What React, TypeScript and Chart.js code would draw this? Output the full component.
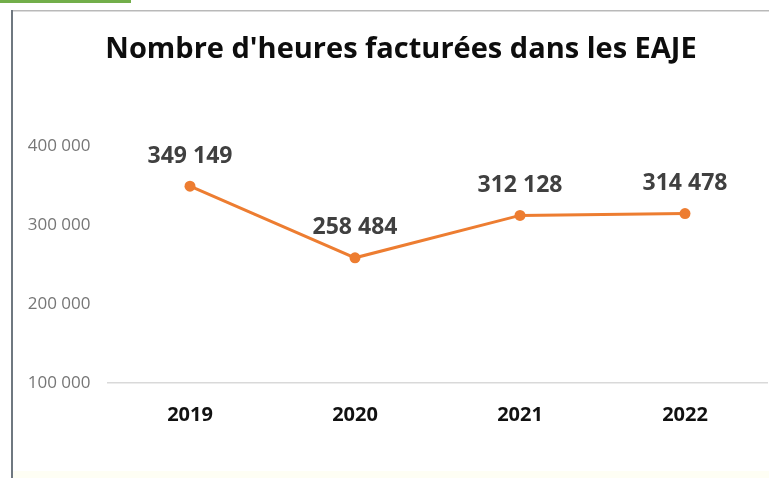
import React, { useEffect, useRef } from "react";
import { Chart, registerables } from "chart.js";

Chart.register(...registerables);

const TITLE = "Nombre d'heures facturées dans les EAJE";
const YEARS = ["2019", "2020", "2021", "2022"];
const HOURS = [349149, 258484, 312128, 314478];
const Y_MIN = 100000;
const Y_MAX = 400000;
const Y_STEP = 100000;

const fmt = (v: number) => Math.round(v).toString().replace(/\B(?=(\d{3})+(?!\d))/g, " ");

const framePlugin = {
  id: "frame",
  beforeDraw(chart: any) {
    const ctx = chart.ctx;
    ctx.save();
    ctx.fillStyle = "#ffffff";
    ctx.fillRect(0, 0, chart.width, chart.height);
    ctx.fillStyle = "#fefef4";
    ctx.fillRect(13, 471, chart.width - 13, chart.height - 471);
    ctx.fillStyle = "#72ae4a";
    ctx.fillRect(0, 0, 131, 3);
    ctx.fillStyle = "#b9b9b9";
    ctx.fillRect(12, 10, chart.width - 12, 1.5);
    ctx.fillStyle = "#6f7880";
    ctx.fillRect(11, 10, 2, chart.height - 10);
    // chart title
    ctx.font = "bold 29px 'Open Sans'";
    ctx.fillStyle = "#0d0d0d";
    ctx.textAlign = "center";
    ctx.textBaseline = "middle";
    ctx.fillText(TITLE, 401, 50);
    ctx.restore();
  },
};

const labelPlugin = {
  id: "pointLabels",
  afterDatasetsDraw(chart: any) {
    const ctx = chart.ctx;
    const meta = chart.getDatasetMeta(0);
    ctx.save();
    ctx.font = "bold 23px 'Open Sans'";
    ctx.fillStyle = "#404040";
    ctx.textAlign = "center";
    ctx.textBaseline = "middle";
    meta.data.forEach((pt: any, i: number) => {
      ctx.fillText(fmt(HOURS[i]), pt.x, pt.y - 30);
    });
    ctx.restore();
  },
};

export default function App() {
  const ref = useRef<HTMLCanvasElement>(null);
  useEffect(() => {
    if (!ref.current) return;
    const chart = new Chart(ref.current, {
      type: "line",
      data: {
        labels: YEARS,
        datasets: [
          {
            data: HOURS,
            borderColor: "#ed7d31",
            backgroundColor: "#ed7d31",
            borderWidth: 3,
            pointRadius: 5.5,
            pointBackgroundColor: "#ed7d31",
            pointBorderColor: "#ed7d31",
            pointBorderWidth: 0,
            tension: 0,
            clip: false,
          },
        ],
      },
      options: {
        animation: false,
        responsive: false,
        devicePixelRatio: 1,
        layout: { autoPadding: false, padding: { left: 0.5, right: 1.5, top: 146, bottom: 0 } },
        plugins: {
          legend: { display: false },
          tooltip: { enabled: false },
          title: { display: false },
        },
        scales: {
          x: {
            type: "category",
            offset: true,
            grid: { display: false, drawTicks: false },
            border: { display: true, color: "#d9d9d9", width: 1.5 },
            ticks: {
              color: "#111111",
              font: { family: "'Open Sans'", size: 20, weight: "bold" },
              padding: 20,
            },
            afterFit: (s: any) => {
              s.height = 95;
              s.paddingLeft = 0;
              s.paddingRight = 0;
            },
          },
          y: {
            min: Y_MIN,
            max: Y_MAX,
            grid: { display: false, drawTicks: false },
            border: { display: false },
            ticks: {
              stepSize: Y_STEP,
              color: "#767676",
              font: { family: "'Open Sans'", size: 17 },
              padding: 17,
              callback: (v: any) => fmt(Number(v)),
            },
            afterFit: (s: any) => {
              s.width = 107;
            },
          },
        },
      },
      plugins: [framePlugin, labelPlugin],
    });
    return () => chart.destroy();
  }, []);
  return (
    <div style={{ position: "fixed", left: 0, top: 0, width: 769, height: 478, overflow: "hidden" }}>
      <canvas ref={ref} width={769} height={478} style={{ display: "block" }} />
    </div>
  );
}
